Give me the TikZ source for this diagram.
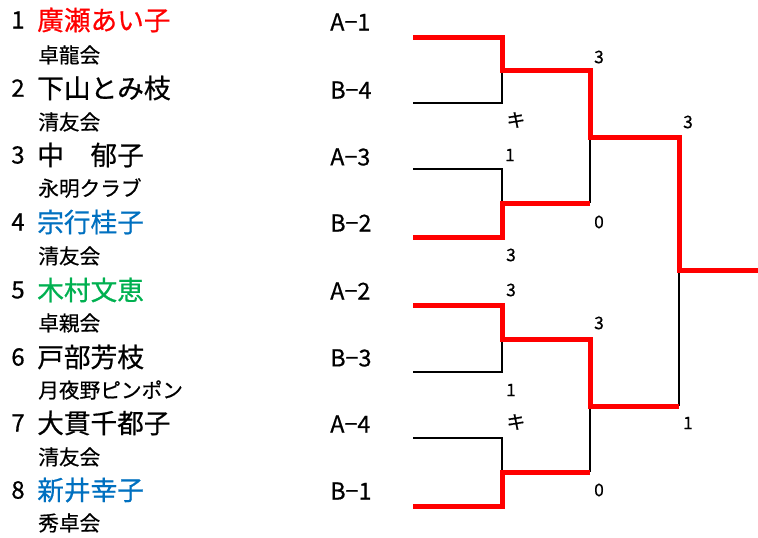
\documentclass[tikz,border=0pt]{standalone}
\usepackage{fontspec}
\setmainfont{Noto Sans CJK JP}[FakeBold=0.6]
\definecolor{winred}{RGB}{255,0,0}
\definecolor{nblue}{RGB}{0,112,192}
\definecolor{ngreen}{RGB}{0,176,80}
\begin{document}
\begin{tikzpicture}[x=0.75pt,y=-0.75pt,
  seed/.style={anchor=center,inner sep=0pt,font=\fontsize{18pt}{20pt}\selectfont},
  pname/.style={anchor=west,inner sep=0pt,font=\fontsize{20pt}{22pt}\selectfont},
  club/.style={anchor=west,inner sep=0pt,font=\fontsize{15.5pt}{17pt}\selectfont},
  slot/.style={anchor=west,inner sep=0pt,font=\fontsize{17.5pt}{19pt}\selectfont},
  score/.style={anchor=center,inner sep=0pt,font=\fontsize{13pt}{15pt}\selectfont},
  kscore/.style={anchor=center,inner sep=0pt,font=\fontsize{14pt}{16pt}\selectfont},
  loseline/.style={draw=black,line width=2.2pt,line join=miter},
  winline/.style={draw=winred,line width=3.75pt,line join=miter}]
\useasboundingbox (0,0) rectangle (758,537);
% players
\node[seed] (s1) at (18,20) {1};
\node[pname,text=winred] (n1) at (37,20) {廣瀬あい子};
\node[club] (c1) at (38,55) {卓龍会};
\node[seed] (s2) at (18,88) {2};
\node[pname] (n2) at (37,88) {下山とみ枝};
\node[club] (c2) at (38,122) {清友会};
\node[seed] (s3) at (18,155) {3};
\node[pname] (n3) at (37,155) {中　郁子};
\node[club] (c3) at (38,188) {永明クラブ};
\node[seed] (s4) at (18,222) {4};
\node[pname,text=nblue] (n4) at (37,222) {宗行桂子};
\node[club] (c4) at (38,256) {清友会};
\node[seed] (s5) at (18,290) {5};
\node[pname,text=ngreen] (n5) at (37,290) {木村文恵};
\node[club] (c5) at (38,323) {卓親会};
\node[seed] (s6) at (18,357) {6};
\node[pname] (n6) at (37,357) {戸部芳枝};
\node[club] (c6) at (38,390) {月夜野ピンポン};
\node[seed] (s7) at (18,423) {7};
\node[pname] (n7) at (37,423) {大貫千都子};
\node[club] (c7) at (38,457) {清友会};
\node[seed] (s8) at (18,490) {8};
\node[pname,text=nblue] (n8) at (37,490) {新井幸子};
\node[club] (c8) at (38,523) {秀卓会};
% slots
\node[slot] (a1) at (330,22) {A−1};
\node[slot] (b4) at (330,90) {B−4};
\node[slot] (a3) at (330,157) {A−3};
\node[slot] (b2) at (330,223) {B−2};
\node[slot] (a2) at (330,291) {A−2};
\node[slot] (b3) at (330,358) {B−3};
\node[slot] (a4) at (330,424) {A−4};
\node[slot] (b1) at (330,491) {B−1};
% bracket points
\coordinate (L1) at (413,37);
\coordinate (L2) at (413,103);
\coordinate (L3) at (413,169);
\coordinate (L4) at (413,237);
\coordinate (L5) at (413,305);
\coordinate (L6) at (413,372);
\coordinate (L7) at (413,438);
\coordinate (L8) at (413,506);
\coordinate (J1) at (502,70);
\coordinate (J2) at (502,203);
\coordinate (J3) at (502,339);
\coordinate (J4) at (502,472);
\coordinate (K1) at (590,137);
\coordinate (K2) at (590,406);
\coordinate (F) at (679,270);
\coordinate (E) at (758,270);
% losing lines
\draw[loseline] (L2) -| (J1);
\draw[loseline] (L3) -| (J2);
\draw[loseline] (L6) -| (J3);
\draw[loseline] (L7) -| (J4);
\draw[loseline] (K1) -- (K1 |- J2);
\draw[loseline] (K2) -- (K2 |- J4);
\draw[loseline] (F) -- (F |- K2);
% winning lines
\draw[winline] (L1) -| (J1) -| (K1) -| (F) -- (E);
\draw[winline] (L4) -| (J2) -- (K1 |- J2);
\draw[winline] (L5) -| (J3) -| (K2) -- (F |- K2);
\draw[winline] (L8) -| (J4) -- (K2 |- J4);
% scores
\node[score] (t1) at (599,57) {3};
\node[kscore] (t2) at (516,120) {キ};
\node[score] (t3) at (510,155) {1};
\node[score] (t4) at (599,222) {0};
\node[score] (t5) at (511,255) {3};
\node[score] (t6) at (688,122) {3};
\node[score] (t7) at (511,290) {3};
\node[score] (t8) at (599,323) {3};
\node[score] (t9) at (511,390) {1};
\node[kscore] (t10) at (516,422) {キ};
\node[score] (t11) at (599,490) {0};
\node[score] (t12) at (688,423) {1};
\end{tikzpicture}
\end{document}
